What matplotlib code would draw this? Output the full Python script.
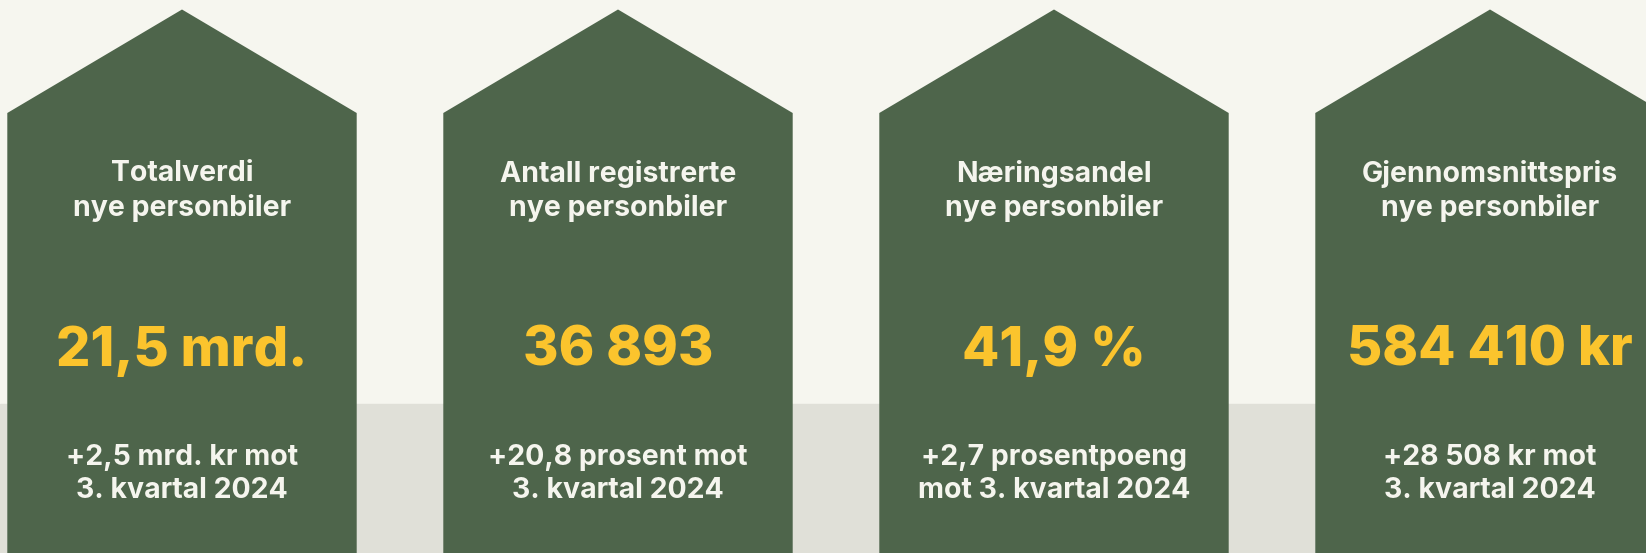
import matplotlib
matplotlib.use("Agg")
import matplotlib.pyplot as plt
from matplotlib.patches import Polygon, Rectangle

# card contents
titles = ["Totalverdi\nnye personbiler",
          "Antall registrerte\nnye personbiler",
          "Næringsandel\nnye personbiler",
          "Gjennomsnittspris\nnye personbiler"]
values = ["21,5 mrd.", "36 893", "41,9 %", "584 410 kr"]
changes = ["+2,5 mrd. kr mot\n3. kvartal 2024",
           "+20,8 prosent mot\n3. kvartal 2024",
           "+2,7 prosentpoeng\nmot 3. kvartal 2024",
           "+28 508 kr mot\n3. kvartal 2024"]

W, H = 1646, 553
bg_top = "#f6f6ef"
bg_bottom = "#e0e0d8"
green = "#4e654b"
yellow = "#fbc42d"
light = "#f5f5ee"

fig = plt.figure(figsize=(W / 100, H / 100), dpi=100)
fig.patch.set_facecolor(bg_top)
ax = fig.add_axes([0, 0, 1, 1])
ax.set_xlim(0, W)
ax.set_ylim(H, 0)
ax.axis("off")

ax.add_patch(Rectangle((0, 404), W, H - 404, color=bg_bottom, zorder=0))

house_w = 349.4
step = 436
for i, (t, v, c) in enumerate(zip(titles, values, changes)):
    x0 = 7.3 + step * i
    cx = x0 + house_w / 2
    pts = [(x0, H + 5), (x0, 113), (cx, 9.5), (x0 + house_w, 113), (x0 + house_w, H + 5)]
    ax.add_patch(Polygon(pts, closed=True, color=green, zorder=1, lw=0))
    ax.text(cx, 191, t, ha="center", va="center", color=light,
            fontsize=20.5, fontweight="bold", family="Inter", linespacing=1.3, zorder=2)
    ax.text(cx, 351, v, ha="center", va="center", color=yellow,
            fontsize=39, fontweight="heavy", family="Inter", zorder=2)
    ax.text(cx, 474, c, ha="center", va="center", color=light,
            fontsize=20.5, fontweight="bold", family="Inter", linespacing=1.3, zorder=2)

fig.savefig("out.png", dpi=100, facecolor=fig.get_facecolor())
